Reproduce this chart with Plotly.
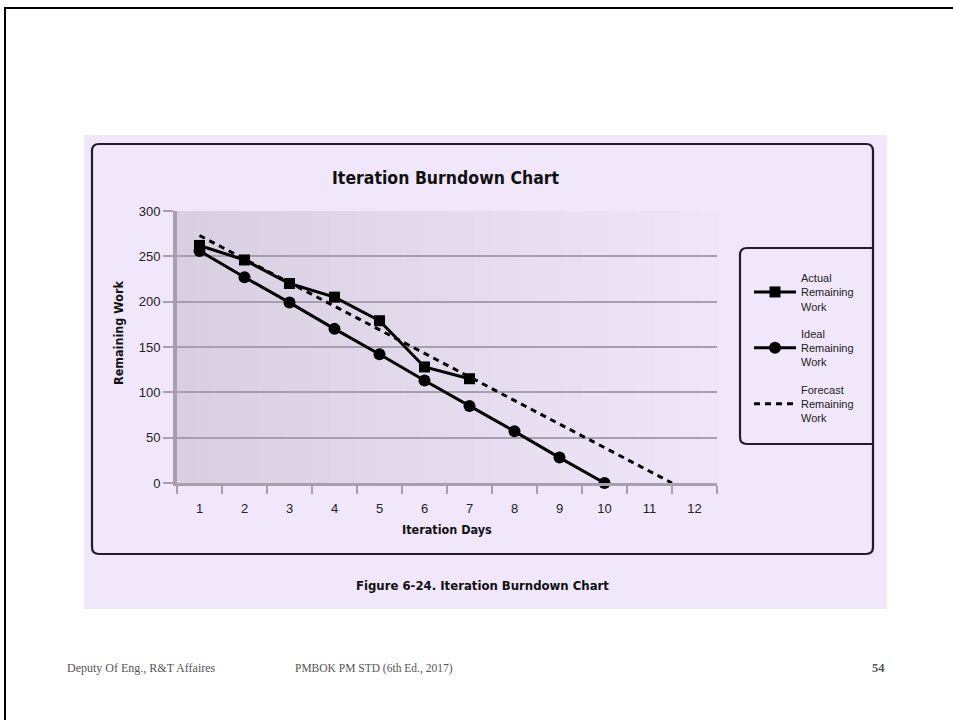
import plotly.graph_objects as go

# ---------------- data ----------------
day_ticks = [1, 2, 3, 4, 5, 6, 7, 8, 9, 10, 11, 12]
day_labels = ["1", "2", "3", "4", "5", "6", "7", "8", "9", "10", "11", "12"]
work_ticks = [0, 50, 100, 150, 200, 250, 300]

actual_days = [1, 2, 3, 4, 5, 6, 7]
actual_work = [262, 246, 220, 205, 179, 128, 115]

ideal_days = [1, 2, 3, 4, 5, 6, 7, 8, 9, 10]
ideal_work = [256, 227, 199, 170, 142, 113, 85, 57, 28, 0]

forecast_days = [1, 11.5]
forecast_work = [273, 0]

# ---------------- geometry helpers ----------------
W, H = 953, 720
L, R, T, B = 177, 236, 211, 237
PW, PH = W - L - R, H - T - B


def px(X):
    return (X - L) / PW


def py(Y):
    return (H - B - Y) / PH


NARROW = "Liberation Sans Narrow, DejaVu Sans Condensed, Arial Narrow, sans-serif"
SANS = "Liberation Sans, Arial, sans-serif"
SERIF = "Liberation Serif, Times New Roman, serif"
INK = "#241a2a"
GRID = "#a79fb0"

fig = go.Figure()

fig.add_trace(go.Scatter(
    x=actual_days, y=actual_work, mode="lines+markers",
    name="Actual<br>Remaining<br>Work", legendgroup="a",
    line=dict(color="black", width=3),
    marker=dict(symbol="square", size=11, color="black"),
    cliponaxis=False,
))
fig.add_trace(go.Scatter(
    x=ideal_days, y=ideal_work, mode="lines+markers",
    name="Ideal<br>Remaining<br>Work", legendgroup="b",
    line=dict(color="black", width=3),
    marker=dict(symbol="circle", size=12, color="black"),
    cliponaxis=False,
))
fig.add_trace(go.Scatter(
    x=forecast_days, y=forecast_work, mode="lines",
    name="Forecast<br>Remaining<br>Work", legendgroup="c",
    line=dict(color="black", width=3, dash="6px,5px"),
    cliponaxis=False,
))

shapes = []
# slide border
shapes.append(dict(type="rect", xref="paper", yref="paper",
                   x0=px(5), x1=px(965), y0=py(8), y1=py(735),
                   line=dict(color="black", width=2), fillcolor="rgba(0,0,0,0)", layer="below"))
# figure background
shapes.append(dict(type="rect", xref="paper", yref="paper",
                   x0=px(84), x1=px(887), y0=py(135), y1=py(609),
                   line=dict(width=0), fillcolor="#f1e7fb", layer="below"))
# plot-area gradient
N = 60
c0 = (216, 207, 225)
c1 = (240, 230, 249)
for i in range(N):
    t = i / (N - 1)
    col = "rgb(%d,%d,%d)" % tuple(round(a + (b - a) * t) for a, b in zip(c0, c1))
    shapes.append(dict(type="rect", xref="x domain", yref="y domain",
                       x0=i / N, x1=(i + 1) / N + 0.002, y0=0, y1=1,
                       line=dict(width=0), fillcolor=col, layer="below"))


def fmt(cmd, *vals):
    pairs = []
    for i in range(0, len(vals), 2):
        pairs.append("%.5f,%.5f" % (vals[i], vals[i + 1]))
    return cmd + " " + " ".join(pairs) + " "


def rounded_box(x0, y0, x1, y1, r):
    s = fmt("M", px(x0 + r), py(y0))
    s += fmt("L", px(x1 - r), py(y0))
    s += fmt("Q", px(x1), py(y0), px(x1), py(y0 + r))
    s += fmt("L", px(x1), py(y1 - r))
    s += fmt("Q", px(x1), py(y1), px(x1 - r), py(y1))
    s += fmt("L", px(x0 + r), py(y1))
    s += fmt("Q", px(x0), py(y1), px(x0), py(y1 - r))
    s += fmt("L", px(x0), py(y0 + r))
    s += fmt("Q", px(x0), py(y0), px(x0 + r), py(y0))
    return s + "Z"


def legend_box(x0, y0, x1, y1, r):
    s = fmt("M", px(x1), py(y0))
    s += fmt("L", px(x0 + r), py(y0))
    s += fmt("Q", px(x0), py(y0), px(x0), py(y0 + r))
    s += fmt("L", px(x0), py(y1 - r))
    s += fmt("Q", px(x0), py(y1), px(x0 + r), py(y1))
    s += fmt("L", px(x1), py(y1))
    return s


shapes.append(dict(type="path", xref="paper", yref="paper",
                   path=rounded_box(92, 144, 873, 554, 7),
                   line=dict(color=INK, width=2.2), layer="above"))
shapes.append(dict(type="path", xref="paper", yref="paper",
                   path=legend_box(740, 248, 873, 444, 7),
                   line=dict(color=INK, width=2.2), layer="above"))

annotations = [
    dict(text="<b>Iteration Burndown Chart</b>", x=px(446), y=py(178),
         font=dict(family=NARROW, size=17.5, color="#111")),
    dict(text="<b>Iteration Days</b>", x=px(447), y=py(529),
         font=dict(family=NARROW, size=12.5, color="#111")),
    dict(text="<b>Remaining Work</b>", x=px(118), y=py(333), textangle=-90,
         font=dict(family=NARROW, size=12.5, color="#111")),
    dict(text="<b>Figure 6-24. Iteration Burndown Chart</b>", x=px(482), y=py(585),
         font=dict(family=NARROW, size=13, color="#111")),
    dict(text="Deputy Of Eng., R&amp;T Affaires", x=px(65), y=py(668), xanchor="left",
         font=dict(family=SERIF, size=12, color="#555")),
    dict(text="PMBOK PM STD (6th Ed., 2017)", x=px(374), y=py(668),
         font=dict(family=SERIF, size=11.5, color="#555")),
    dict(text="<b>54</b>", x=px(878), y=py(668),
         font=dict(family=SERIF, size=12.5, color="#555")),
]
for a in annotations:
    a.update(xref="paper", yref="paper", showarrow=False)
    a.setdefault("xanchor", "center")
    a.setdefault("yanchor", "middle")

fig.update_layout(
    width=W, height=H,
    margin=dict(l=L, r=R, t=T, b=B, pad=0),
    paper_bgcolor="white",
    plot_bgcolor="rgba(0,0,0,0)",
    shapes=shapes,
    annotations=annotations,
    showlegend=True,
    legend=dict(
        xref="container", yref="container",
        x=749 / W, y=1 - 264 / H, xanchor="left", yanchor="top",
        bgcolor="rgba(0,0,0,0)", borderwidth=0, itemwidth=42,
        font=dict(family=SANS, size=11, color="#222"),
        tracegroupgap=10, itemclick=False, itemdoubleclick=False,
    ),
    xaxis=dict(
        range=[0.5, 12.5], tickmode="array", tickvals=day_ticks, ticktext=day_labels,
        ticks="outside", ticklen=11, tickcolor="rgba(0,0,0,0)",
        minor=dict(tickmode="array", tickvals=[0.5 + i for i in range(13)],
                   ticks="outside", ticklen=8, tickwidth=2, tickcolor=GRID, showgrid=False),
        showgrid=False, zeroline=False,
        showline=True, linecolor=GRID, linewidth=3,
        tickfont=dict(family=SANS, size=13, color="#222"),
        fixedrange=True,
    ),
    yaxis=dict(
        range=[0, 300], tickmode="array", tickvals=work_ticks,
        ticks="outside", ticklen=10, tickwidth=2, tickcolor=GRID,
        showgrid=True, gridcolor=GRID, gridwidth=2,
        zeroline=False, showline=True, linecolor=GRID, linewidth=4,
        tickfont=dict(family=SANS, size=13, color="#222"),
        fixedrange=True,
    ),
)

fig.write_html("out.html", post_script="document.body.style.margin='0';document.body.style.overflow='hidden';",
               config={"displayModeBar": False})
